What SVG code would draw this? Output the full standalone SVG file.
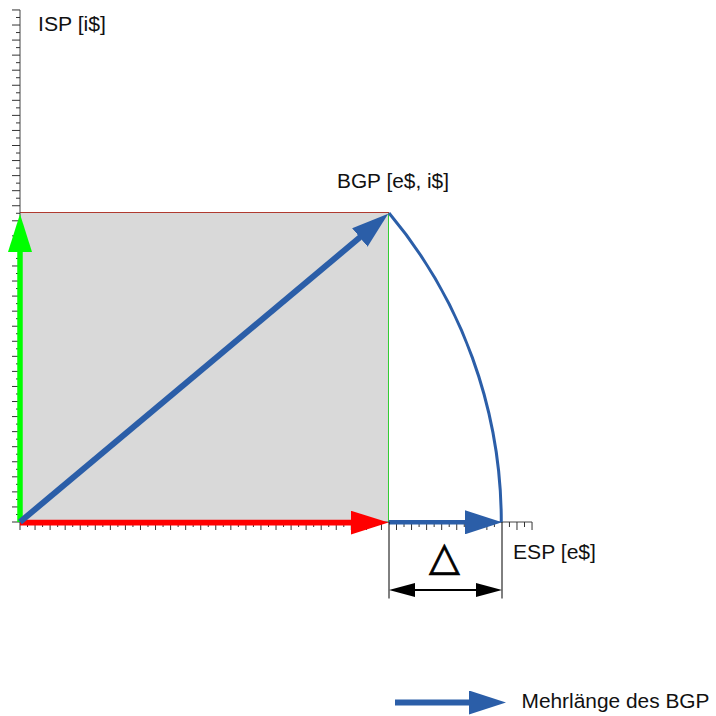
<svg xmlns="http://www.w3.org/2000/svg" width="716" height="716" viewBox="0 0 716 716">
<style>
  .lbl { font-family: "Liberation Sans", Arial, sans-serif; font-size: 20.5px; fill: #111; }
  .tick { stroke: #333; stroke-width: 1; fill: none; }
  .axis { stroke: #444; stroke-width: 1; fill: none; }
  .blue { stroke: #2b5ea8; fill: none; }
  .dim { stroke: #000; stroke-width: 1; fill: none; }
</style>
<defs>
  <marker id="hBlue" markerUnits="userSpaceOnUse" viewBox="0 0 37 24" markerWidth="37" markerHeight="24" refX="1" refY="12" orient="auto">
    <path d="M0,0 L37,12 L0,24 z" fill="#2b5ea8"/>
  </marker>
  <marker id="hRed" markerUnits="userSpaceOnUse" viewBox="0 0 38 24" markerWidth="38" markerHeight="24" refX="1" refY="12" orient="auto">
    <path d="M0,0 L38,12 L0,24 z" fill="#ff0000"/>
  </marker>
  <marker id="hGreen" markerUnits="userSpaceOnUse" viewBox="0 0 38 24" markerWidth="38" markerHeight="24" refX="1" refY="12" orient="auto">
    <path d="M0,0 L38,12 L0,24 z" fill="#00ff00"/>
  </marker>
  <marker id="hBlack" markerUnits="userSpaceOnUse" viewBox="0 0 26 14" markerWidth="26" markerHeight="14" refX="1" refY="7" orient="auto-start-reverse">
    <path d="M0,0 L26,7 L0,14 z" fill="#000"/>
  </marker>
</defs>
<rect width="716" height="716" fill="#ffffff"/>

<g id="area">
  <rect x="20" y="213" width="369" height="309" fill="#d9d9d9"/>
  <line x1="20" y1="212.5" x2="389" y2="212.5" stroke="#b03a30" stroke-width="1"/>
  <line x1="388.5" y1="213" x2="388.5" y2="522" stroke="#33cc33" stroke-width="1"/>
</g>

<g id="axes">
  <line class="axis" x1="20" y1="9.96" x2="20" y2="522"/>
  <line class="axis" x1="20" y1="522" x2="532.04" y2="522"/>
  <path class="tick" d="M12 522h8M16 514.47h4M12 506.94h8M16 499.41h4M12 491.88h8M16 484.35h4M12 476.82h8M16 469.29h4M12 461.76h8M16 454.23h4M12 446.7h8M16 439.17h4M12 431.64h8M16 424.11h4M12 416.58h8M16 409.05h4M12 401.52h8M16 393.99h4M12 386.46h8M16 378.93h4M12 371.4h8M16 363.87h4M12 356.34h8M16 348.81h4M12 341.28h8M16 333.75h4M12 326.22h8M16 318.69h4M12 311.16h8M16 303.63h4M12 296.1h8M16 288.57h4M12 281.04h8M16 273.51h4M12 265.98h8M16 258.45h4M12 250.92h8M16 243.39h4M12 235.86h8M16 228.33h4M12 220.8h8M16 213.27h4M12 205.74h8M16 198.21h4M12 190.68h8M16 183.15h4M12 175.62h8M16 168.09h4M12 160.56h8M16 153.03h4M12 145.5h8M16 137.97h4M12 130.44h8M16 122.91h4M12 115.38h8M16 107.85h4M12 100.32h8M16 92.79h4M12 85.26h8M16 77.73h4M12 70.2h8M16 62.67h4M12 55.14h8M16 47.61h4M12 40.08h8M16 32.55h4M12 25.02h8M16 17.49h4M12 9.96h8"/>
  <path class="tick" d="M20 522v8M27.53 522v5M35.06 522v8M42.59 522v5M50.12 522v8M57.65 522v5M65.18 522v8M72.71 522v5M80.24 522v8M87.77 522v5M95.3 522v8M102.83 522v5M110.36 522v8M117.89 522v5M125.42 522v8M132.95 522v5M140.48 522v8M148.01 522v5M155.54 522v8M163.07 522v5M170.6 522v8M178.13 522v5M185.66 522v8M193.19 522v5M200.72 522v8M208.25 522v5M215.78 522v8M223.31 522v5M230.84 522v8M238.37 522v5M245.9 522v8M253.43 522v5M260.96 522v8M268.49 522v5M276.02 522v8M283.55 522v5M291.08 522v8M298.61 522v5M306.14 522v8M313.67 522v5M321.2 522v8M328.73 522v5M336.26 522v8M343.79 522v5M351.32 522v8M358.85 522v5M366.38 522v8M373.91 522v5M381.44 522v8M396.5 522v8M404.03 522v5M411.56 522v8M419.09 522v5M426.62 522v8M434.15 522v5M441.68 522v8M449.21 522v5M456.74 522v8M464.27 522v5M471.8 522v8M479.33 522v5M486.86 522v8M494.39 522v5M509.45 522v5M516.98 522v8M524.51 522v5M532.04 522v8"/>
  <text class="lbl" x="38" y="31" textLength="68" lengthAdjust="spacingAndGlyphs">ISP [i$]</text>
  <text class="lbl" x="337" y="187.5" textLength="112" lengthAdjust="spacingAndGlyphs">BGP [e$, i$]</text>
  <text class="lbl" x="513" y="558.5" textLength="83" lengthAdjust="spacingAndGlyphs">ESP [e$]</text>
</g>

<g id="connectors">
  <path id="arc" class="blue" stroke-width="3" d="M389,213 A481.3,481.3 0 0 1 501.3,522"/>
  <line id="isp-vector" x1="20" y1="522" x2="20" y2="251" stroke="#00ff00" stroke-width="5.5" marker-end="url(#hGreen)"/>
  <line id="esp-vector" x1="20" y1="522.6" x2="351.5" y2="522.6" stroke="#ff0000" stroke-width="5.6" marker-end="url(#hRed)"/>
  <line id="extra-vector" class="blue" x1="389" y1="522.3" x2="466" y2="522.3" stroke-width="4.5" marker-end="url(#hBlue)"/>
  <line id="bgp-vector" class="blue" x1="20" y1="522" x2="360.6" y2="236.8" stroke-width="6" marker-end="url(#hBlue)"/>
</g>

<g id="delta">
  <line class="dim" x1="389" y1="522" x2="389" y2="598.5"/>
  <line class="dim" x1="502" y1="522" x2="502" y2="598.5"/>
  <line x1="414" y1="590" x2="477" y2="590" stroke="#000" stroke-width="2" marker-start="url(#hBlack)" marker-end="url(#hBlack)"/>
  <text x="444.5" y="570" text-anchor="middle" stroke="#000" stroke-width="0.8" style="font-family: 'DejaVu Sans', sans-serif; font-size: 40px; fill: #000;">△</text>
</g>

<g id="legend">
  <line class="blue" x1="395" y1="702.5" x2="470" y2="702.5" stroke-width="6" marker-end="url(#hBlue)"/>
  <text class="lbl" x="521.5" y="707.5" textLength="188" lengthAdjust="spacingAndGlyphs">Mehrlänge des BGP</text>
</g>
</svg>
